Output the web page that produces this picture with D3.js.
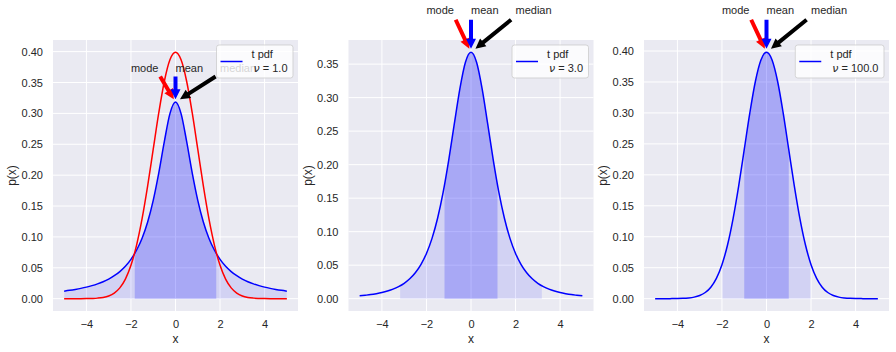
<!DOCTYPE html>
<html>
<head>
<meta charset="utf-8">
<script src="https://cdn.jsdelivr.net/npm/d3@7"></script>
<style>
  body { margin: 0; background: #fff; }
  svg { font-family: "Liberation Sans", Arial, sans-serif; }
</style>
</head>
<body>
<div id="chart"></div>
<script>
// sample positions along x
var xs = [-5, -4.75, -4.5, -4.25, -4, -3.75, -3.5, -3.25, -3, -2.75, -2.5, -2.25, -2, -1.75, -1.5, -1.25, -1, -0.75, -0.5, -0.25,
  0, 0.25, 0.5, 0.75, 1, 1.25, 1.5, 1.75, 2, 2.25, 2.5, 2.75, 3, 3.25, 3.5, 3.75, 4, 4.25, 4.5, 4.75, 5];

// t pdf, nu = 1
var tPdf1 = [0.0122, 0.0135, 0.0150, 0.0167, 0.0187, 0.0211, 0.0240, 0.0275, 0.0318, 0.0372, 0.0439, 0.0525, 0.0637, 0.0784, 0.0979, 0.1242, 0.1592, 0.2037, 0.2546, 0.2996,
  0.3183, 0.2996, 0.2546, 0.2037, 0.1592, 0.1242, 0.0979, 0.0784, 0.0637, 0.0525, 0.0439, 0.0372, 0.0318, 0.0275, 0.0240, 0.0211, 0.0187, 0.0167, 0.0150, 0.0135, 0.0122];

// normal pdf (red, first panel only)
var normPdf = [0, 0, 0, 0, 0.0001, 0.0004, 0.0009, 0.0020, 0.0044, 0.0091, 0.0175, 0.0317, 0.0540, 0.0863, 0.1295, 0.1826, 0.2420, 0.3011, 0.3521, 0.3867,
  0.3989, 0.3867, 0.3521, 0.3011, 0.2420, 0.1826, 0.1295, 0.0863, 0.0540, 0.0317, 0.0175, 0.0091, 0.0044, 0.0020, 0.0009, 0.0004, 0.0001, 0, 0, 0, 0];

// t pdf, nu = 3
var tPdf3 = [0.0042, 0.0051, 0.0061, 0.0075, 0.0092, 0.0114, 0.0142, 0.0180, 0.0230, 0.0297, 0.0387, 0.0509, 0.0675, 0.0900, 0.1200, 0.1589, 0.2068, 0.2607, 0.3132, 0.3528,
  0.3676, 0.3528, 0.3132, 0.2607, 0.2068, 0.1589, 0.1200, 0.0900, 0.0675, 0.0509, 0.0387, 0.0297, 0.0230, 0.0180, 0.0142, 0.0114, 0.0092, 0.0075, 0.0061, 0.0051, 0.0042];

// t pdf, nu = 100
var tPdf100 = [0, 0, 0, 0.0001, 0.0002, 0.0005, 0.0012, 0.0025, 0.0051, 0.0100, 0.0186, 0.0329, 0.0549, 0.0867, 0.1294, 0.1819, 0.2407, 0.2997, 0.3508, 0.3855,
  0.3979, 0.3855, 0.3508, 0.2997, 0.2407, 0.1819, 0.1294, 0.0867, 0.0549, 0.0329, 0.0186, 0.0100, 0.0051, 0.0025, 0.0012, 0.0005, 0.0002, 0.0001, 0, 0, 0];

var nuValues = [1.0, 3.0, 100.0];
var tSeries = [tPdf1, tPdf3, tPdf100];
// half widths of the shaded intervals (68% dark, 95% light)
var band68 = [1.83, 1.19, 1.00];
var band95 = [5.0, 3.18, 1.98];

var xTicks = [-4, -2, 0, 2, 4];
var yTicks = [
  [0, 0.05, 0.10, 0.15, 0.20, 0.25, 0.30, 0.35, 0.40],
  [0, 0.05, 0.10, 0.15, 0.20, 0.25, 0.30, 0.35],
  [0, 0.05, 0.10, 0.15, 0.20, 0.25, 0.30, 0.35, 0.40]
];

var annLabels = ["mode", "mean", "median"];
var annX = [-2, 0, 2];
var annColors = ["red", "blue", "black"];

// layout
var size = [896, 352];
var panelLeft = [53, 348.5, 644];
var panelTop = 40;
var panelW = 245;
var panelH = 271;
var textColor = "#262626";

var svg = d3.select("#chart").append("svg")
    .attr("width", size[0])
    .attr("height", size[1]);

nuValues.forEach(function(nu, i) {
  drawPanel(i);
});

function drawPanel(i) {
  var g = svg.append("g")
      .attr("transform", "translate(" + panelLeft[i] + "," + panelTop + ")");

  var values = tSeries[i];
  var points = xs.map(function(v, k) { return { x: v, y: values[k] }; });
  var normPoints = xs.map(function(v, k) { return { x: v, y: normPdf[k] }; });

  var x = d3.scaleLinear().domain([-5.5, 5.5]).range([0, panelW]);
  var yMax = d3.max(i == 0 ? values.concat(normPdf) : values);
  var pad = yMax * 0.05;
  var y = d3.scaleLinear().domain([-pad, yMax + pad]).range([panelH, 0]);

  // background + grid
  g.append("rect")
    .attr("width", panelW)
    .attr("height", panelH)
    .attr("fill", "#eaeaf2");

  g.selectAll(".gx").data(xTicks).enter().append("line")
    .attr("x1", function(d) { return x(d); })
    .attr("x2", function(d) { return x(d); })
    .attr("y1", 0).attr("y2", panelH)
    .attr("stroke", "#fff").attr("stroke-width", 1);

  g.selectAll(".gy").data(yTicks[i]).enter().append("line")
    .attr("y1", function(d) { return y(d); })
    .attr("y2", function(d) { return y(d); })
    .attr("x1", 0).attr("x2", panelW)
    .attr("stroke", "#fff").attr("stroke-width", 1);

  // shaded intervals
  var defs = g.append("defs");
  [["c95", band95[i]], ["c68", band68[i]]].forEach(function(c) {
    defs.append("clipPath").attr("id", c[0] + "-" + i)
      .append("rect")
      .attr("x", x(-c[1]))
      .attr("width", x(c[1]) - x(-c[1]))
      .attr("y", 0)
      .attr("height", panelH);
  });

  var area = d3.area()
      .x(function(d) { return x(d.x); })
      .y0(y(0))
      .y1(function(d) { return y(d.y); })
      .curve(d3.curveMonotoneX);

  g.append("path").datum(points)
    .attr("d", area)
    .attr("fill", "blue")
    .attr("fill-opacity", 0.1)
    .attr("clip-path", "url(#c95-" + i + ")");

  g.append("path").datum(points)
    .attr("d", area)
    .attr("fill", "blue")
    .attr("fill-opacity", 0.2)
    .attr("clip-path", "url(#c68-" + i + ")");

  var line = d3.line()
      .x(function(d) { return x(d.x); })
      .y(function(d) { return y(d.y); })
      .curve(d3.curveMonotoneX);

  g.append("path").datum(points)
    .attr("d", line)
    .attr("fill", "none")
    .attr("stroke", "blue")
    .attr("stroke-width", 1.5);

  if (i == 0) {
    g.append("path").datum(normPoints)
      .attr("d", line)
      .attr("fill", "none")
      .attr("stroke", "red")
      .attr("stroke-width", 1.5);
  }

  // axes (no spines, no tick marks)
  var axisX = d3.axisBottom(x)
      .tickValues(xTicks)
      .tickSize(0)
      .tickPadding(9)
      .tickFormat(d3.format("d"));
  var gx = g.append("g")
      .attr("transform", "translate(0," + panelH + ")")
      .call(axisX);

  var axisY = d3.axisLeft(y)
      .tickValues(yTicks[i])
      .tickSize(0)
      .tickPadding(10)
      .tickFormat(d3.format(".2f"));
  var gy = g.append("g").call(axisY);

  [gx, gy].forEach(function(ax) {
    ax.select(".domain").remove();
    ax.selectAll("text")
      .attr("font-family", "Liberation Sans, Arial, sans-serif")
      .attr("font-size", 11)
      .attr("fill", textColor);
  });

  g.append("text")
    .text("x")
    .attr("x", panelW / 2)
    .attr("y", panelH + 28)
    .attr("dy", "0.35em")
    .attr("text-anchor", "middle")
    .attr("font-size", 12)
    .attr("fill", textColor);

  g.append("text")
    .text("p(x)")
    .attr("transform", "translate(-41," + (panelH / 2) + ") rotate(-90)")
    .attr("dy", "0.35em")
    .attr("text-anchor", "middle")
    .attr("font-size", 12)
    .attr("fill", textColor);

  // annotations pointing at the peak
  var peak = d3.max(values);
  var tx = x(0), ty = y(peak);
  annLabels.forEach(function(label, k) {
    var t = g.append("text")
      .text(label)
      .attr("x", x(annX[k]))
      .attr("y", y(peak * 1.155))
      .attr("font-size", 11)
      .attr("fill", textColor);
    var bb = t.node().getBBox();
    var xc = [bb.x, bb.x + bb.width / 2, bb.x + bb.width];
    var yc = [bb.y, bb.y + bb.height / 2, bb.y + bb.height];
    var cx = xc.reduce(function(a, b) { return Math.abs(b - tx) < Math.abs(a - tx) ? b : a; });
    var cy = yc.reduce(function(a, b) { return Math.abs(b - ty) < Math.abs(a - ty) ? b : a; });
    drawArrow(g, cx, cy, tx, ty, annColors[k]);
  });

  // legend
  var lg = g.append("g");
  var box = lg.append("rect")
    .attr("height", 33)
    .attr("rx", 2.5)
    .attr("fill", "#fff")
    .attr("fill-opacity", 0.8)
    .attr("stroke", "#cccccc")
    .attr("stroke-opacity", 0.8);
  lg.append("line")
    .attr("x1", 4).attr("x2", 26)
    .attr("y1", 16.5).attr("y2", 16.5)
    .attr("stroke", "blue")
    .attr("stroke-width", 1.5);
  lg.append("text")
    .text("t pdf")
    .attr("x", 35).attr("y", 13)
    .attr("font-size", 11)
    .attr("fill", textColor);
  var nuText = lg.append("text")
    .attr("x", 37).attr("y", 27)
    .attr("font-size", 11)
    .attr("fill", textColor);
  nuText.append("tspan")
    .attr("font-family", "DejaVu Sans")
    .attr("font-style", "italic")
    .text("\u03bd");
  nuText.append("tspan")
    .text(" = " + d3.format(".1f")(nuValues[i]));
  var boxW = 37 + nuText.node().getComputedTextLength() + 5.5;
  box.attr("width", boxW);
  lg.attr("transform", "translate(" + (panelW - 5 - boxW) + ",5)");
}

function drawArrow(g, x0, y0, x1, y1, color) {
  var shrink = 0.1;
  var dx = x1 - x0, dy = y1 - y0;
  var sx = x0 + dx * shrink, sy = y0 + dy * shrink;
  var ex = x1 - dx * shrink, ey = y1 - dy * shrink;
  var len = Math.sqrt((ex - sx) * (ex - sx) + (ey - sy) * (ey - sy));
  var ux = (ex - sx) / len, uy = (ey - sy) / len;
  var nx = -uy, ny = ux;
  var w = 2, hw = 5, hl = 10;
  var hx = ex - ux * hl, hy = ey - uy * hl;
  var pts = [
    [sx + nx * w, sy + ny * w],
    [hx + nx * w, hy + ny * w],
    [hx + nx * hw, hy + ny * hw],
    [ex, ey],
    [hx - nx * hw, hy - ny * hw],
    [hx - nx * w, hy - ny * w],
    [sx - nx * w, sy - ny * w]
  ];
  g.append("path")
    .attr("d", "M" + pts.map(function(p) { return p.join(","); }).join("L") + "Z")
    .attr("fill", color)
    .attr("stroke", "none");
}
</script>
</body>
</html>
